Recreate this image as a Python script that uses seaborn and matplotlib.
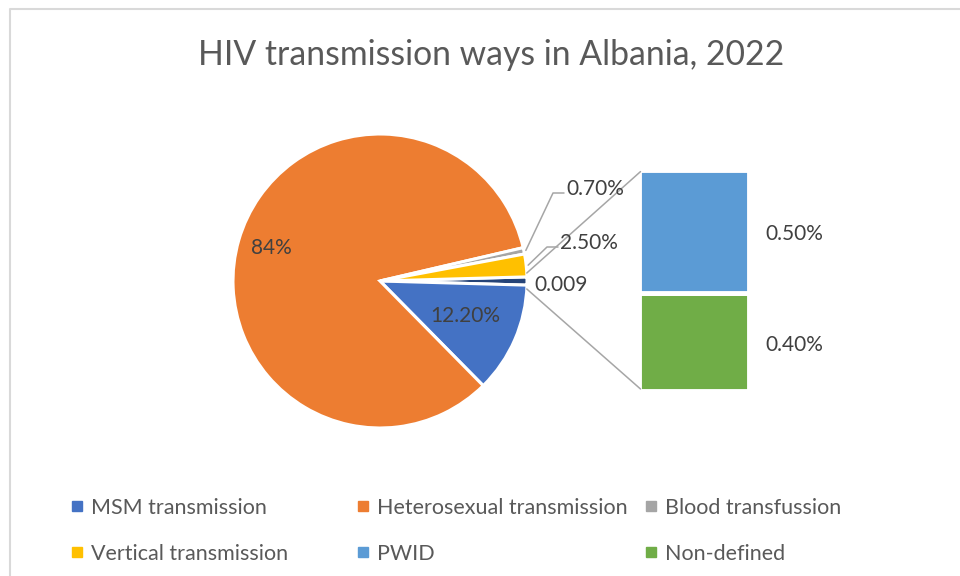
import numpy as np
import matplotlib
matplotlib.use('Agg')
import matplotlib.pyplot as plt
from matplotlib.lines import Line2D
import seaborn as sns

# main pie, percent of cases ("Other" is split out in the bar on the right)
pie_labels = ['Other', 'MSM transmission', 'Heterosexual transmission',
              'Blood transfussion', 'Vertical transmission']
pie_values = [0.9, 12.2, 84.0, 0.7, 2.5]
pie_texts = ['0.009', '12.20%', '84%', '0.70%', '2.50%']

# secondary stacked bar (bottom to top)
bar_labels = ['Non-defined', 'PWID']
bar_values = [0.4, 0.5]
bar_texts = ['0.40%', '0.50%']

legend_order = ['MSM transmission', 'Heterosexual transmission', 'Blood transfussion',
                'Vertical transmission', 'PWID', 'Non-defined']

colors = {
    'Other': '#264478',
    'MSM transmission': '#4472C4',
    'Heterosexual transmission': '#ED7D31',
    'Blood transfussion': '#A5A5A5',
    'Vertical transmission': '#FFC000',
    'PWID': '#5B9BD5',
    'Non-defined': '#70AD47',
}

sns.set_theme(style='white')
plt.rcParams['font.family'] = ['Lato', 'DejaVu Sans']

W, H = 960, 576
fig = plt.figure(figsize=(W / 100, H / 100), dpi=100)
ax = fig.add_axes([0, 0, 1, 1])

# pie, "Other" slice centred on the right side, going clockwise
cx, cy, R = 380, H - 281, 147
start = 360 * pie_values[0] / sum(pie_values) / 2
wedges, _ = ax.pie(pie_values, colors=[colors[k] for k in pie_labels],
                   startangle=start, counterclock=False, center=(cx, cy), radius=R,
                   wedgeprops=dict(edgecolor='white', linewidth=2.2), frame=False)
ax.set_xlim(0, W)
ax.set_ylim(0, H)
ax.set_axis_off()


def polar(theta, r):
    t = np.radians(theta)
    return cx + r * np.cos(t), cy + r * np.sin(t)


lab_col = '#404040'
line_col = '#A6A6A6'
fs = 15

# big labels inside slices
for i, d in [(1, 0.63), (2, 0.77)]:
    w = wedges[i]
    mid = (w.theta1 + w.theta2) / 2
    x, y = polar(mid, d * R)
    ax.text(x, y + 2, pie_texts[i], ha='center', va='center', fontsize=fs, color=lab_col)

# small labels with leader lines
leaders = [(3, (553, 564), H - 193, 566, H - 189),
           (4, (547, 558), H - 247, 560, H - 243)]
for i, kx, ky, tx, ty in leaders:
    w = wedges[i]
    x0, y0 = polar((w.theta1 + w.theta2) / 2, R + 2)
    ax.plot([x0, kx[0], kx[1]], [y0, ky, ky], color=line_col, lw=1.1)
    ax.text(tx, ty, pie_texts[i], ha='left', va='center', fontsize=fs, color=lab_col)
ax.text(534, H - 285, pie_texts[0], ha='left', va='center', fontsize=fs, color=lab_col)

# secondary stacked bar
bx, bw, scale, b0 = 693.5, 110, 246, H - 391
bottom = b0
for lab, v, t in zip(bar_labels, bar_values, bar_texts):
    ax.bar(bx, v * scale, width=bw, bottom=bottom, color=colors[lab],
           edgecolor='white', linewidth=3.5)
    ax.text(765, bottom + v * scale / 2 - 3, t, ha='left', va='center', fontsize=fs, color=lab_col)
    bottom += v * scale
top = bottom

# connector lines between pie and bar
w = wedges[0]
xa, ya = polar(w.theta2 + 1.5, R)
xb, yb = polar(w.theta1 - 1.5, R)
ax.plot([xa, bx - bw / 2 + 2], [ya, top - 2], color=line_col, lw=1.1)
ax.plot([xb, bx - bw / 2 + 2], [yb, b0 + 2], color=line_col, lw=1.1)

# chart frame
ax.plot([10, 10, W + 5], [-5, H - 9, H - 9], color='#D9D9D9', lw=1.5)

# title
fig.text(491 / W, 1 - 65 / H, 'HIV transmission ways in Albania, 2022',
         ha='center', va='baseline', fontsize=24.3, color='#595959')

# legend, one column per block of two entries
col_x = [72, 358, 646]
for c in range(3):
    names = [legend_order[c], legend_order[c + 3]]
    handles = [Line2D([], [], marker='s', ls='', markersize=6.5, color=colors[n]) for n in names]
    leg = fig.legend(handles, names, loc='upper left', bbox_to_anchor=(col_x[c] / W, 1 - 498 / H),
                     frameon=False, fontsize=15.5, handlelength=0.5, handletextpad=0.4,
                     labelspacing=1.2, borderpad=0, borderaxespad=0)
    for t in leg.get_texts():
        t.set_color('#595959')

plt.savefig('out.png', dpi=100)
